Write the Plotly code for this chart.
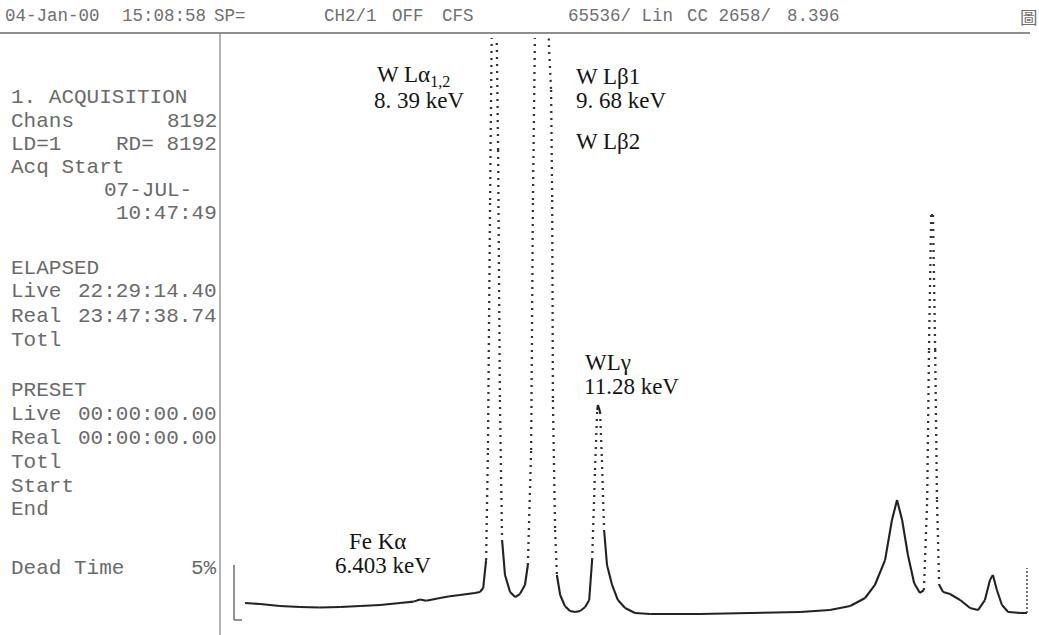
import plotly.graph_objects as go

W, H = 1039, 635

# ---------------- data ----------------
energy_keV = [1.56, 1.97, 2.52, 3.07, 3.62, 4.18, 4.73, 5.28, 5.83, 6.20, 6.38, 6.55, 6.93, 7.20, 7.48, 7.89, 8.03,
              8.12, 8.20, 8.25, 8.31, 8.36, 8.39, 8.45, 8.53, 8.58, 8.64, 8.72, 8.86, 9.00, 9.13, 9.27,
              9.35, 9.44, 9.49, 9.55, 9.68, 9.85, 9.93, 9.99, 10.02, 10.04, 10.10, 10.15, 10.24, 10.37,
              10.51, 10.65, 10.79, 10.93, 11.04, 11.12, 11.20, 11.26, 11.28, 11.34, 11.39, 11.45, 11.53,
              11.67, 11.83, 12.03, 12.30, 12.72, 14.09, 15.47, 16.85, 17.67, 18.23, 18.64, 18.91, 19.19,
              19.38, 19.52, 19.66, 19.82, 19.99, 20.15, 20.26, 20.35, 20.40, 20.46, 20.51, 20.57, 20.62,
              20.68, 20.79, 20.98, 21.26, 21.53, 21.75, 21.94, 22.08, 22.16, 22.27, 22.41, 22.58, 22.91, 23.10]
counts = [1700, 1580, 1360, 1240, 1190, 1240, 1360, 1470, 1700, 1850, 2100, 1950, 2260, 2450, 2600, 2830, 2940,
          3390, 6550, 18980, 47230, 68700, 118000, 80000, 52880, 24630, 8810, 4860, 2940, 2370, 2710, 3730,
          5990, 18980, 47230, 67570, 150000, 90000, 64750, 59660, 47230, 24630, 9940, 4860, 2600, 1360,
          790, 680, 790, 1240, 2030, 6550, 16720, 23500, 24070, 23280, 17850, 9940, 5990,
          3730, 2030, 1130, 570, 450, 450, 570, 680, 900, 1360, 2260, 3730, 6550,
          11070, 13330, 11070, 7120, 3960, 2830, 3160, 13330, 30280, 45540, 45540, 30280, 13330,
          3730, 2940, 2710, 2030, 1130, 900, 2030, 4290, 4860, 3160, 1470, 680, 570, 570]
full_scale_counts = 65536
x_range_keV = [1.145, 23.32]

# end-of-region cursor mark
roi_end_keV = [23.10, 23.10]
roi_end_counts = [570, 5650]

# peak labels
peak_labels = ["W Lα<sub>1,2</sub>", "8. 39 keV", "W Lβ1", "9. 68 keV", "W Lβ2",
               "WLγ", "11.28 keV", "Fe Kα", "6.403 keV"]

# header fields of the printout
header_fields = ["04-Jan-00", "15:08:58", "SP=", "CH2/1", "OFF", "CFS",
                 "65536/ Lin", "CC 2658/", "8.396", "圖"]

# status panel (left text, right-aligned value)
panel_left = ["1. ACQUISITION", "Chans", "LD=1", "Acq Start", "", "",
              "ELAPSED", "Live", "Real", "Totl",
              "PRESET", "Live", "Real", "Totl", "Start", "End", "Dead Time"]
panel_right = ["", "8192", "RD= 8192", "", "07-JUL-  ", "10:47:49",
               "", "22:29:14.40", "23:47:38.74", "",
               "", "00:00:00.00", "00:00:00.00", "", "", "", "5%"]

# ---------------- layout helpers (window pixels -> paper) ----------------
def px(x):
    return x / W

def py(y):
    return 1 - y / H

# split the spectrum into shallow (printed solid) and steep (printed dotted) runs
solid_x, solid_y, dot_x, dot_y = [], [], [], []
for i in range(len(energy_keV) - 1):
    x0, x1 = energy_keV[i], energy_keV[i + 1]
    y0, y1 = counts[i], counts[i + 1]
    steep = abs(y1 - y0) / (x1 - x0) > 60000
    tx, ty = (dot_x, dot_y) if steep else (solid_x, solid_y)
    tx += [x0, x1, None]
    ty += [y0, y1, None]

fig = go.Figure()
fig.add_trace(go.Scatter(x=solid_x, y=solid_y, mode="lines",
                         line=dict(color="#222222", width=2.1), hoverinfo="skip", showlegend=False))
fig.add_trace(go.Scatter(x=dot_x, y=dot_y, mode="lines",
                         line=dict(color="#333333", width=2.3, dash="2px,5px"), hoverinfo="skip", showlegend=False))
fig.add_trace(go.Scatter(x=roi_end_keV, y=roi_end_counts, mode="lines",
                         line=dict(color="#555", width=1.6, dash="2px,2px"), hoverinfo="skip", showlegend=False))

annotations = []
# peak labels (serif)
label_pos = [(375, 76), (372, 101), (574, 77), (574, 101), (574, 141),
             (583, 362), (582, 386), (347, 541), (333, 565)]
for t, (lx, ly) in zip(peak_labels, label_pos):
    annotations.append(dict(x=px(lx), y=py(ly), xref="paper", yref="paper", text=t, showarrow=False,
                            xanchor="left", yanchor="middle",
                            font=dict(family="Liberation Serif", size=23, color="#151515")))

# header
header_x = [3, 120, 212, 322, 390, 440, 566, 685, 785, 1018]
for t, hx in zip(header_fields, header_x):
    fam = "Noto Sans CJK TC" if t == "圖" else "Liberation Mono"
    annotations.append(dict(x=px(hx), y=py(16), xref="paper", yref="paper", text=t, showarrow=False,
                            xanchor="left", yanchor="middle",
                            font=dict(family=fam, size=17.5, color="#6f6f6f")))

# status panel
panel_y = [97, 121, 144, 167, 190, 213, 268, 292, 316, 340, 391, 415, 438, 462, 486, 509, 568]
for l, r, yy in zip(panel_left, panel_right, panel_y):
    if l:
        annotations.append(dict(x=px(9), y=py(yy), xref="paper", yref="paper", text=l, showarrow=False,
                                xanchor="left", yanchor="middle",
                                font=dict(family="Liberation Mono", size=21, color="#6a6a6a")))
    if r:
        annotations.append(dict(x=px(219), y=py(yy), xref="paper", yref="paper", text=r.replace(" ", "&nbsp;"),
                                showarrow=False, xanchor="right", yanchor="middle",
                                font=dict(family="Liberation Mono", size=21, color="#6a6a6a")))

shapes = [
    dict(type="line", xref="paper", yref="paper", x0=0, x1=px(1030), y0=py(33), y1=py(33),
         line=dict(color="#6a6a6a", width=1.3)),
    dict(type="line", xref="paper", yref="paper", x0=px(220), x1=px(220), y0=py(33), y1=0,
         line=dict(color="#8a8a8a", width=1.3)),
    dict(type="line", xref="paper", yref="paper", x0=px(234), x1=px(234), y0=py(565), y1=py(620),
         line=dict(color="#555", width=1.3)),
    dict(type="line", xref="paper", yref="paper", x0=px(234), x1=px(242), y0=py(620), y1=py(620),
         line=dict(color="#555", width=1.3)),
]

fig.update_layout(
    width=W, height=H,
    margin=dict(l=0, r=0, t=0, b=0),
    paper_bgcolor="white", plot_bgcolor="white",
    xaxis=dict(domain=[px(230), px(1035)], range=x_range_keV, visible=False),
    yaxis=dict(domain=[py(618), py(38)], range=[0, full_scale_counts], visible=False),
    annotations=annotations, shapes=shapes, showlegend=False,
)

fig.write_html("out.html",
               config={"displayModeBar": False, "staticPlot": True},
               post_script="document.body.style.margin='0';document.body.style.overflow='hidden';")
